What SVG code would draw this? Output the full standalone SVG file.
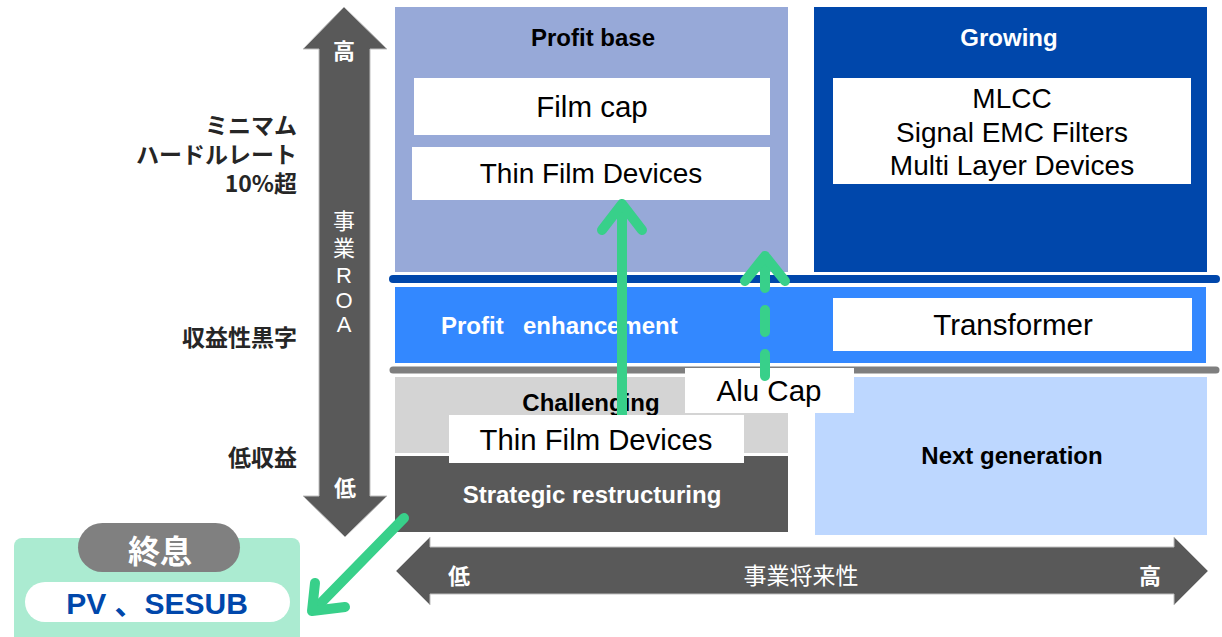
<svg xmlns="http://www.w3.org/2000/svg" width="1222" height="637" viewBox="0 0 1222 637">
<style>
.jp{font-family:"Noto Sans CJK JP","Liberation Sans",sans-serif;}
.lbl{font-family:"Noto Sans CJK JP","Liberation Sans",sans-serif;font-weight:bold;font-size:23px;fill:#262626;text-anchor:end;}
.ax{font-family:"Noto Sans CJK JP","Liberation Sans",sans-serif;font-size:22px;fill:#ffffff;text-anchor:middle;}
.axb{font-weight:bold;}
.box{font-family:"Liberation Sans",Arial,sans-serif;font-size:28px;fill:#000;text-anchor:middle;}
.big{font-size:29.5px;}
.hd{font-family:"Liberation Sans",Arial,sans-serif;font-weight:bold;font-size:24px;text-anchor:middle;}
.wb{fill:#ffffff;}
.arr{fill:none;stroke:#38D08A;stroke-width:10;stroke-linecap:round;stroke-linejoin:round;}
</style>
<rect width="1222" height="637" fill="#ffffff"/>

<g id="axis-vertical">
  <polygon points="344,7 387,49 370,49 370,496 387,496 345,537 303,496 319,496 319,49 303,49" fill="#595959" stroke="#BFBFBF" stroke-width="1"/>
  <text class="ax axb" x="344" y="59">高</text>
  <text class="ax" x="344" y="229">事</text>
  <text class="ax" x="344" y="256">業</text>
  <text class="ax" x="344" y="283" style="font-family:'Liberation Sans',sans-serif">R</text>
  <text class="ax" x="344" y="308" style="font-family:'Liberation Sans',sans-serif">O</text>
  <text class="ax" x="344" y="332" style="font-family:'Liberation Sans',sans-serif">A</text>
  <text class="ax axb" x="345" y="496">低</text>
</g>

<g id="labels-left">
  <text class="lbl" x="297" y="134">ミニマム</text>
  <text class="lbl" x="297" y="163">ハードルレート</text>
  <text class="lbl" x="297" y="192">10%超</text>
  <text class="lbl" x="297" y="346">収益性黒字</text>
  <text class="lbl" x="297" y="466">低収益</text>
</g>

<g id="axis-horizontal">
  <polygon points="396,571 430,537 430,547 1174,547 1174,537 1208,571 1174,605 1174,594 430,594 430,605" fill="#595959" stroke="#BFBFBF" stroke-width="1"/>
  <text class="ax axb" x="459" y="584">低</text>
  <text class="ax" x="801" y="584" style="font-size:23px">事業将来性</text>
  <text class="ax axb" x="1150" y="584">高</text>
</g>

<g id="profit-base">
  <rect x="395" y="7" width="393" height="265" fill="#97A9D8"/>
  <text class="hd" x="593" y="46" fill="#000">Profit base</text>
  <rect x="414" y="78" width="356" height="57" fill="#ffffff"/>
  <text class="box big" x="592" y="117">Film cap</text>
  <rect x="412" y="147" width="358" height="53" fill="#ffffff"/>
  <text class="box" x="591" y="183">Thin Film Devices</text>
</g>

<g id="growing">
  <rect x="814" y="7" width="393" height="265" fill="#0047AB"/>
  <text class="hd wb" x="1009" y="46">Growing</text>
  <rect x="833" y="78" width="358" height="106" fill="#ffffff"/>
  <text class="box" x="1012" y="108">MLCC</text>
  <text class="box" x="1012" y="142">Signal EMC Filters</text>
  <text class="box" x="1012" y="175">Multi Layer Devices</text>
</g>

<g id="separators">
  <line x1="393" y1="279" x2="1216" y2="279" stroke="#0047AB" stroke-width="8" stroke-linecap="round"/>
  <line x1="393" y1="370" x2="1216" y2="370" stroke="#7F7F7F" stroke-width="7" stroke-linecap="round"/>
</g>

<g id="profit-enhancement">
  <rect x="395" y="287" width="811" height="76" fill="#3388FF"/>
  <text class="hd wb" x="441" y="334" style="text-anchor:start">Profit</text>
  <text class="hd wb" x="523" y="334" style="text-anchor:start">enhancement</text>
  <rect x="833" y="298" width="359" height="53" fill="#ffffff"/>
  <text class="box big" x="1013" y="335">Transformer</text>
</g>

<g id="challenging">
  <rect x="395" y="377" width="393" height="76" fill="#D4D4D4"/>
  <text class="hd" x="591" y="411" fill="#000">Challenging</text>
</g>

<g id="strategic-restructuring">
  <rect x="395" y="456" width="393" height="76" fill="#595959"/>
  <text class="hd wb" x="592" y="503">Strategic restructuring</text>
</g>

<g id="next-generation">
  <rect x="815" y="377" width="392" height="158" fill="#BDD7FF"/>
  <text class="hd" x="1012" y="464" fill="#000">Next generation</text>
</g>

<g id="connectors">
  <path class="arr" d="M622,418 V206"/>
  <path class="arr" d="M602,230 L622,204 L642,230"/>
  <path class="arr" d="M765,376 V258" stroke-dasharray="22 22"/>
  <path class="arr" d="M745,281 L765,256 L785,281"/>
  <path class="arr" d="M404,518 L316,608"/>
  <path class="arr" d="M315,583 L312,611 L345,607"/>
</g>

<g id="thin-film-lower">
  <rect x="449" y="415" width="295" height="48" fill="#ffffff"/>
  <text class="box" x="596" y="450" style="font-size:29.3px">Thin Film Devices</text>
</g>

<g id="alu-cap">
  <rect x="685" y="368" width="169" height="45" fill="#ffffff"/>
  <text class="box big" x="769" y="401">Alu Cap</text>
  <path class="arr" d="M765,376 V358"/>
</g>

<g id="termination">
  <rect x="14" y="538" width="286" height="110" rx="8" fill="#ABEBD1"/>
  <rect x="78" y="523" width="162" height="49" rx="24.5" fill="#808080"/>
  <text class="jp" x="160" y="563" font-size="32" font-weight="bold" fill="#ffffff" text-anchor="middle">終息</text>
  <rect x="25" y="582" width="265" height="40" rx="20" fill="#ffffff"/>
  <text x="157" y="614" font-family="Liberation Sans, Noto Sans CJK JP, sans-serif" font-size="30" font-weight="bold" fill="#0047AB" text-anchor="middle">PV 、SESUB</text>
</g>
</svg>
